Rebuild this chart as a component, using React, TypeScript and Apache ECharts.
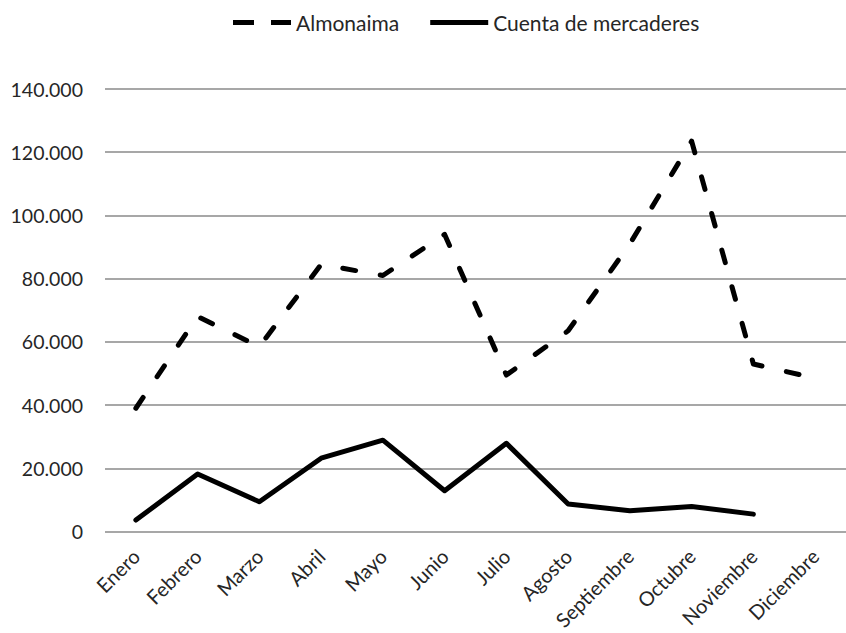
import React, { useEffect, useRef } from "react";
import * as echarts from "echarts";

const months = ["Enero", "Febrero", "Marzo", "Abril", "Mayo", "Junio", "Julio", "Agosto", "Septiembre", "Octubre", "Noviembre", "Diciembre"];
const almonaima = [39000, 68000, 58500, 84500, 81000, 94000, 49500, 63500, 91000, 123500, 53000, 48500];
const cuenta: (number | null)[] = [3600, 18200, 9400, 23200, 28900, 12900, 27900, 8700, 6600, 7900, 5500, null];
const seriesNames = ["Almonaima", "Cuenta de mercaderes"];

const fmt = (v: number) => String(v).replace(/\B(?=(\d{3})+(?!\d))/g, ".");

export default function App() {
  const ref = useRef<HTMLDivElement>(null);
  useEffect(() => {
    if (!ref.current) return;
    const chart = echarts.init(ref.current, null, { renderer: "svg" });
    const font = "Lato";
    chart.setOption({
      animation: false,
      backgroundColor: "#ffffff",
      textStyle: { fontFamily: font },
      legend: {
        top: 7,
        left: 228,
        itemWidth: 58,
        itemHeight: 5,
        itemGap: 31,
        textStyle: { fontFamily: font, fontSize: 21, color: "#262626" },
        itemStyle: { color: "#000", borderWidth: 0 },
        data: [
          { name: seriesNames[0], icon: "path://M0,0H21V5H0Z M38,0H58V5H38Z" },
          { name: seriesNames[1], icon: "rect" },
        ],
      },
      grid: { left: 105, right: -3, top: 89, bottom: 101.5 },
      xAxis: {
        type: "category",
        data: months,
        boundaryGap: true,
        axisLine: { show: false },
        axisTick: { show: false },
        axisLabel: { rotate: 45, margin: 21, fontSize: 20, color: "#262626", fontFamily: font, interval: 0 },
      },
      yAxis: {
        type: "value",
        min: 0,
        max: 140000,
        interval: 20000,
        axisLine: { show: false },
        axisTick: { show: false },
        splitLine: { lineStyle: { color: "#8a8a8a", width: 1.5 } },
        axisLabel: { formatter: (v: number) => fmt(v), fontSize: 19.5, margin: 22, color: "#262626", fontFamily: font },
      },
      series: [
        {
          name: seriesNames[0],
          type: "line",
          data: almonaima,
          symbol: "none",
          lineStyle: { color: "#000", width: 5, type: [13, 25], cap: "round", join: "round" },
          itemStyle: { color: "#000" },
        },
        {
          name: seriesNames[1],
          type: "line",
          data: cuenta,
          symbol: "none",
          lineStyle: { color: "#000", width: 5, cap: "round", join: "round" },
          itemStyle: { color: "#000" },
        },
      ],
    });
    return () => chart.dispose();
  }, []);
  return <div ref={ref} style={{ position: "fixed", left: 0, top: 0, width: 846, height: 633 }} />;
}
